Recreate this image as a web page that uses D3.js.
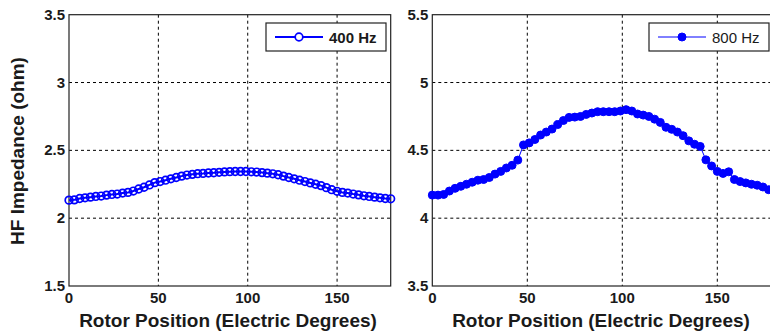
<!DOCTYPE html>
<html>
<head>
<meta charset="utf-8">
<script src="https://cdn.jsdelivr.net/npm/d3@7"></script>
<style>
  body { margin: 0; background: #fff; }
  svg { display: block; font-family: "Liberation Sans", Arial, sans-serif; }
  .tick-label { font-size: 15px; font-weight: bold; fill: #1a1a1a; }
  .axis-title { font-size: 19px; font-weight: bold; fill: #1a1a1a; }
  .grid line { stroke: #000; stroke-dasharray: 3,3; stroke-width: 1; }
</style>
</head>
<body>
<div id="graph"></div>
<script>
'use strict';

// rotor position, degrees (3 degree step)
let positions = d3.range(0, 181, 3);

let hz400 = [2.133, 2.135, 2.145, 2.150, 2.155, 2.160, 2.163, 2.170, 2.175, 2.178,
  2.185, 2.190, 2.200, 2.215, 2.228, 2.245, 2.262, 2.270, 2.280, 2.290,
  2.300, 2.310, 2.318, 2.323, 2.328, 2.330, 2.333, 2.335, 2.338, 2.341,
  2.343, 2.344, 2.344, 2.344, 2.342, 2.340, 2.336, 2.332, 2.327, 2.320,
  2.310, 2.300, 2.290, 2.280, 2.270, 2.260, 2.250, 2.240, 2.225, 2.210,
  2.198, 2.190, 2.185, 2.178, 2.172, 2.165, 2.160, 2.155, 2.150, 2.145, 2.143];

let hz800 = [4.170, 4.170, 4.175, 4.200, 4.220, 4.235, 4.250, 4.265, 4.280, 4.285,
  4.300, 4.325, 4.345, 4.370, 4.390, 4.428, 4.540, 4.555, 4.580, 4.613,
  4.635, 4.657, 4.690, 4.720, 4.743, 4.745, 4.750, 4.765, 4.775, 4.785,
  4.785, 4.785, 4.785, 4.790, 4.800, 4.790, 4.768, 4.760, 4.750, 4.730,
  4.706, 4.670, 4.655, 4.635, 4.608, 4.570, 4.545, 4.529, 4.430, 4.385,
  4.345, 4.330, 4.342, 4.285, 4.270, 4.260, 4.250, 4.243, 4.230, 4.210, 4.200];

let xTicks = [0, 50, 100, 150];
let yTicks400 = [1.5, 2, 2.5, 3, 3.5];
let yTicks800 = [3.5, 4, 4.5, 5, 5.5];

let w = 770, h = 334;
let svg = d3.select('#graph').append('svg').attr('width', w).attr('height', h);

let panels = [
  { values: hz400, label: '400 Hz', yDomain: [1.5, 3.5], yTicks: yTicks400,
    left: 69, right: 390.7, filled: false, legend: [266, 386], legendBold: true, lineW: 2, titleX: 228 },
  { values: hz800, label: '800 Hz', yDomain: [3.5, 5.5], yTicks: yTicks800,
    left: 432.3, right: 774.3, filled: true, legend: [649, 769], legendBold: false, lineW: 1, titleX: 601 }
];
let plotTop = 14.7, plotBottom = 286;

panels.forEach(function (p) {
  let x = d3.scaleLinear().domain([0, 180]).range([p.left, p.right]);
  let y = d3.scaleLinear().domain(p.yDomain).range([plotBottom, plotTop]);
  let g = svg.append('g');

  // dashed grid
  let grid = g.append('g').attr('class', 'grid');
  grid.selectAll('.vx').data(xTicks.filter(function (t) { return t > 0; })).enter().append('line')
    .attr('x1', function (d) { return x(d); }).attr('x2', function (d) { return x(d); })
    .attr('y1', plotTop).attr('y2', plotBottom);
  grid.selectAll('.hy').data(p.yTicks.slice(1, -1)).enter().append('line')
    .attr('x1', p.left).attr('x2', p.right)
    .attr('y1', function (d) { return y(d); }).attr('y2', function (d) { return y(d); });

  // frame
  g.append('rect').attr('x', p.left).attr('y', plotTop)
    .attr('width', p.right - p.left).attr('height', plotBottom - plotTop)
    .attr('fill', 'none').attr('stroke', '#222').attr('stroke-width', 1.2);

  // tick labels
  g.selectAll('.xt').data(xTicks).enter().append('text')
    .attr('class', 'tick-label').attr('text-anchor', 'middle')
    .attr('x', function (d) { return x(d); }).attr('y', 303)
    .text(function (d) { return d; });
  g.selectAll('.yt').data(p.yTicks).enter().append('text')
    .attr('class', 'tick-label').attr('text-anchor', 'end')
    .attr('x', p.left - 4).attr('y', function (d) { return y(d) + 5; })
    .text(function (d) { return d; });

  // axis title
  g.append('text').attr('class', 'axis-title').attr('text-anchor', 'middle')
    .attr('x', p.titleX).attr('y', 327)
    .text('Rotor Position (Electric Degrees)');

  // series
  let line = d3.line().x(function (d, i) { return x(positions[i]); }).y(function (d) { return y(d); });
  g.append('path').datum(p.values).attr('d', line)
    .attr('fill', 'none').attr('stroke', '#0000ff').attr('stroke-width', p.lineW);
  g.selectAll('.pt').data(p.values).enter().append('circle')
    .attr('cx', function (d, i) { return x(positions[i]); })
    .attr('cy', function (d) { return y(d); })
    .attr('r', p.filled ? 4 : 3.8)
    .attr('fill', p.filled ? '#0000ff' : 'none')
    .attr('stroke', '#0000ff').attr('stroke-width', p.filled ? 1 : 1.7);

  // legend
  let lg = g.append('g');
  lg.append('rect').attr('x', p.legend[0]).attr('y', 23)
    .attr('width', p.legend[1] - p.legend[0]).attr('height', 28)
    .attr('fill', '#fff').attr('stroke', '#222').attr('stroke-width', 1.2);
  lg.append('line').attr('x1', p.legend[0] + 9).attr('x2', p.legend[0] + 57)
    .attr('y1', 37).attr('y2', 37).attr('stroke', '#0000ff').attr('stroke-width', p.lineW);
  lg.append('circle').attr('cx', p.legend[0] + 33).attr('cy', 37).attr('r', p.filled ? 4 : 3.8)
    .attr('fill', p.filled ? '#0000ff' : '#fff').attr('stroke', '#0000ff')
    .attr('stroke-width', p.filled ? 1 : 1.7);
  lg.append('text').attr('x', p.legend[0] + 63).attr('y', 42.5)
    .attr('font-size', 15).attr('font-weight', p.legendBold ? 'bold' : 'normal')
    .attr('fill', '#1a1a1a').text(p.label);
});

// shared y title
svg.append('text').attr('class', 'axis-title').attr('text-anchor', 'middle')
  .attr('transform', 'translate(24,151)rotate(-90)')
  .text('HF Impedance (ohm)');
</script>
</body>
</html>
